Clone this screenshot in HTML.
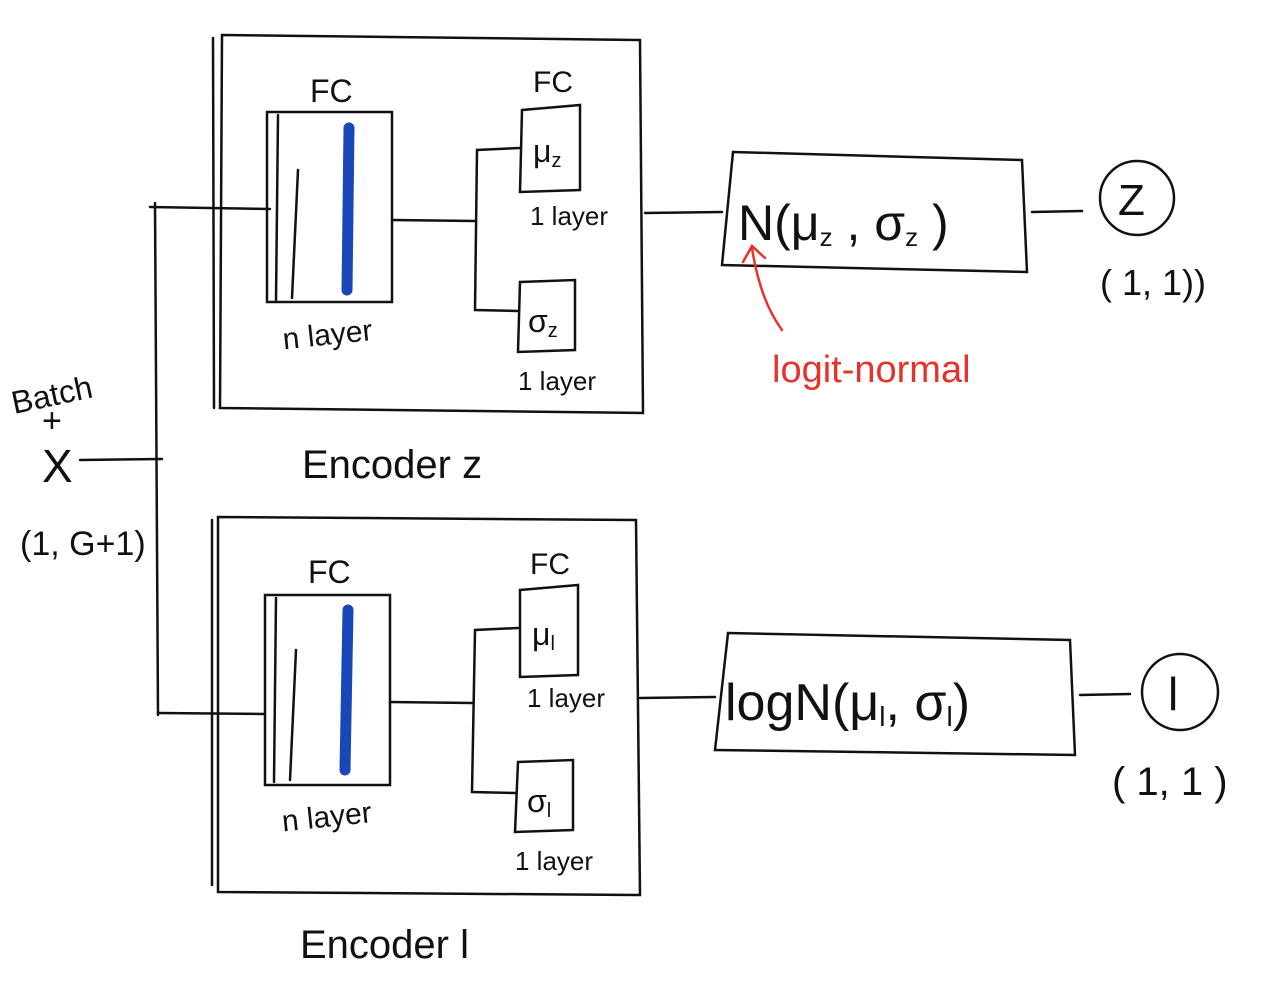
<!DOCTYPE html>
<html><head><meta charset="utf-8"><style>
html,body{margin:0;padding:0;background:#fff;}
svg{display:block;}
text{font-family:"Liberation Sans",sans-serif;fill:#111;}
</style></head><body>
<svg width="1265" height="989" viewBox="0 0 1265 989" stroke="#111" stroke-width="2.5" fill="none" stroke-linecap="round">
<g>
<text x="10" y="405" font-size="32" stroke="none" transform="rotate(-12 55 390)">Batch</text>
<text x="42" y="432" font-size="34" stroke="none">+</text>
<text x="42" y="482" font-size="46" stroke="none">X</text>
<text x="20" y="555" font-size="34" stroke="none">(1, G+1)</text>
<line x1="80" y1="460" x2="162" y2="459"/>
<line x1="155" y1="203" x2="158" y2="715"/>
<line x1="150" y1="207" x2="270" y2="209"/>
<line x1="158" y1="713" x2="265" y2="714"/>
</g>
<g>
<path d="M222 35 L640 40 L643 413 L220 408 Z M213 38 L214 408"/>
<rect x="267" y="112" width="125" height="190"/>
<line x1="278" y1="115" x2="276" y2="300"/>
<line x1="298" y1="170" x2="292" y2="298"/>
<line x1="349" y1="128" x2="347" y2="290" stroke="#1a47b8" stroke-width="11"/>
<text x="310" y="102" font-size="32" stroke="none">FC</text>
<text x="283" y="345" font-size="30" stroke="none" transform="rotate(-6 325 340)">n layer</text>
<line x1="392" y1="220" x2="475" y2="221"/>
<path d="M520 148 L477 150 L475 310 L518 311"/>
<path d="M522 110 L580 105 L580 190 L520 192 Z"/>
<text x="533" y="162" font-size="32" stroke="none">μ<tspan font-size="20" dy="5">z</tspan></text>
<text x="533" y="92" font-size="30" stroke="none">FC</text>
<text x="530" y="225" font-size="26" stroke="none">1 layer</text>
<path d="M520 282 L575 280 L575 350 L518 352 Z"/>
<text x="528" y="332" font-size="32" stroke="none">σ<tspan font-size="20" dy="5">z</tspan></text>
<text x="518" y="390" font-size="26" stroke="none">1 layer</text>
<text x="302" y="478" font-size="40" stroke="none">Encoder z</text>
</g>
<g>
<line x1="645" y1="213" x2="722" y2="212"/>
<path d="M733 152 L1022 160 L1027 272 L722 265 Z"/>
<text x="738" y="240" font-size="50" stroke="none">N(μ<tspan font-size="26" dy="6">z</tspan><tspan dy="-6"> , σ</tspan><tspan font-size="26" dy="6">z</tspan><tspan dy="-6"> )</tspan></text>
<line x1="1032" y1="212" x2="1082" y2="211"/>
<circle cx="1137" cy="198" r="37"/>
<text x="1118" y="215" font-size="44" stroke="none">Z</text>
<text x="1100" y="295" font-size="36" stroke="none">( 1, 1))</text>
<path d="M782 330 Q760 300 752 248 M743 262 L752 246 L765 258" stroke="#e8312a"/>
<text x="772" y="382" font-size="38" stroke="none" style="fill:#e8312a">logit-normal</text>
</g>
<g>
<path d="M218 517 L636 520 L640 895 L218 892 Z M212 520 L212 885"/>
<rect x="265" y="595" width="125" height="190"/>
<line x1="276" y1="598" x2="274" y2="782"/>
<line x1="296" y1="650" x2="290" y2="780"/>
<line x1="348" y1="610" x2="345" y2="770" stroke="#1a47b8" stroke-width="11"/>
<text x="308" y="583" font-size="32" stroke="none">FC</text>
<text x="282" y="827" font-size="30" stroke="none" transform="rotate(-6 325 820)">n layer</text>
<line x1="390" y1="702" x2="472" y2="703"/>
<path d="M518 628 L475 630 L472 792 L516 793"/>
<path d="M520 590 L578 585 L578 675 L520 677 Z"/>
<text x="532" y="645" font-size="32" stroke="none">μ<tspan font-size="20" dy="5">l</tspan></text>
<text x="530" y="574" font-size="30" stroke="none">FC</text>
<text x="527" y="707" font-size="26" stroke="none">1 layer</text>
<path d="M518 762 L573 760 L573 830 L515 832 Z"/>
<text x="527" y="812" font-size="32" stroke="none">σ<tspan font-size="20" dy="5">l</tspan></text>
<text x="515" y="870" font-size="26" stroke="none">1 layer</text>
<text x="300" y="958" font-size="40" stroke="none">Encoder l</text>
</g>
<g>
<line x1="640" y1="698" x2="715" y2="697"/>
<path d="M728 633 L1070 640 L1075 755 L715 750 Z"/>
<text x="725" y="720" font-size="52" stroke="none">logN(μ<tspan font-size="28" dy="6">l</tspan><tspan dy="-6">, σ</tspan><tspan font-size="28" dy="6">l</tspan><tspan dy="-6">)</tspan></text>
<line x1="1080" y1="695" x2="1130" y2="694"/>
<circle cx="1180" cy="692" r="38"/>
<text x="1168" y="710" font-size="46" stroke="none">l</text>
<text x="1112" y="795" font-size="40" stroke="none">( 1, 1 )</text>
</g>
</svg>
</body></html>
